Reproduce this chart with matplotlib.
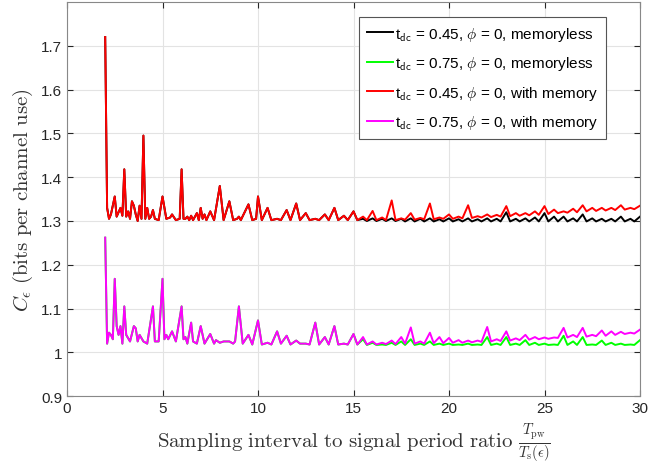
import matplotlib.pyplot as plt

plt.rcParams['mathtext.fontset'] = 'cm'
plt.rcParams['font.family'] = ['Liberation Sans', 'DejaVu Sans']

# t_dc = 0.45, with memory (red)
red_x = [2.0, 2.1, 2.2, 2.3, 2.4, 2.5, 2.6, 2.7, 2.8, 2.9, 3.0, 3.1, 3.2, 3.3, 3.4, 3.5, 3.6, 3.7, 3.8, 3.9,
         4.0, 4.1, 4.2, 4.3, 4.4, 4.5, 4.6, 4.8, 5.0, 5.2, 5.4, 5.5, 5.7, 5.9, 6.0, 6.1, 6.2, 6.3, 6.4, 6.5,
         6.6, 6.8, 6.9, 7.0, 7.1, 7.2, 7.3, 7.5, 7.7, 8.0, 8.2, 8.5, 8.7, 8.9, 9.0, 9.1, 9.5, 9.7, 9.9, 10.0,
         10.2, 10.5, 10.7, 11.0, 11.2, 11.5, 11.7, 12.0, 12.2, 12.5, 12.7, 13.0, 13.2, 13.5, 13.7, 14.0, 14.2,
         14.5, 14.7, 15.0, 15.2, 15.5, 15.7, 16.0, 16.2, 16.5, 16.7, 17.0, 17.2, 17.5, 17.7, 18.0, 18.2, 18.5,
         18.7, 19.0, 19.2, 19.5, 19.7, 20.0, 20.2, 20.5, 20.7, 21.0, 21.2, 21.5, 21.7, 22.0, 22.2, 22.5, 22.7,
         23.0, 23.2, 23.5, 23.7, 24.0, 24.2, 24.5, 24.7, 25.0, 25.2, 25.5, 25.7, 26.0, 26.2, 26.5, 26.7, 27.0,
         27.2, 27.5, 27.7, 28.0, 28.2, 28.5, 28.7, 29.0, 29.2, 29.5, 29.7, 30.0]
red_y = [1.72, 1.33, 1.305, 1.315, 1.335, 1.356, 1.31, 1.32, 1.33, 1.312, 1.418, 1.31, 1.322, 1.305, 1.345,
         1.335, 1.315, 1.30, 1.335, 1.305, 1.495, 1.305, 1.33, 1.305, 1.31, 1.325, 1.305, 1.302, 1.356, 1.305,
         1.308, 1.315, 1.302, 1.305, 1.418, 1.305, 1.305, 1.31, 1.302, 1.312, 1.302, 1.318, 1.302, 1.33, 1.305,
         1.315, 1.302, 1.322, 1.302, 1.38, 1.302, 1.345, 1.302, 1.305, 1.31, 1.302, 1.338, 1.302, 1.305, 1.356,
         1.302, 1.33, 1.302, 1.305, 1.302, 1.325, 1.302, 1.34, 1.302, 1.318, 1.302, 1.305, 1.302, 1.315, 1.302,
         1.33, 1.302, 1.312, 1.302, 1.322, 1.302, 1.31, 1.302, 1.323, 1.302, 1.308, 1.302, 1.347, 1.302, 1.306,
         1.303, 1.318, 1.303, 1.307, 1.304, 1.34, 1.304, 1.308, 1.305, 1.315, 1.305, 1.31, 1.306, 1.336, 1.307,
         1.311, 1.308, 1.315, 1.309, 1.314, 1.31, 1.334, 1.311, 1.318, 1.312, 1.318, 1.313, 1.322, 1.314, 1.334,
         1.316, 1.326, 1.318, 1.322, 1.319, 1.328, 1.32, 1.336, 1.322, 1.33, 1.323, 1.33, 1.324, 1.33, 1.325,
         1.336, 1.326, 1.33, 1.327, 1.335]

# t_dc = 0.45, memoryless (black) - same as red up to ~15
black_tail_x = [15.5, 15.7, 16.0, 16.2, 16.5, 16.7, 17.0, 17.2, 17.5, 17.7, 18.0, 18.2, 18.5, 18.7, 19.0,
                19.2, 19.5, 19.7, 20.0, 20.2, 20.5, 20.7, 21.0, 21.2, 21.5, 21.7, 22.0, 22.2, 22.5, 22.7,
                23.0, 23.2, 23.5, 23.7, 24.0, 24.2, 24.5, 24.7, 25.0, 25.2, 25.5, 25.7, 26.0, 26.2, 26.5,
                26.7, 27.0, 27.2, 27.5, 27.7, 28.0, 28.2, 28.5, 28.7, 29.0, 29.2, 29.5, 29.7, 30.0]
black_tail_y = [1.305, 1.3, 1.306, 1.3, 1.305, 1.3, 1.306, 1.3, 1.305, 1.299, 1.306, 1.299, 1.305, 1.299, 1.306,
                1.299, 1.304, 1.299, 1.306, 1.299, 1.304, 1.299, 1.306, 1.299, 1.304, 1.299, 1.306, 1.299, 1.305,
                1.299, 1.32, 1.299, 1.305, 1.299, 1.306, 1.299, 1.308, 1.299, 1.318, 1.299, 1.31, 1.299, 1.31,
                1.299, 1.306, 1.299, 1.315, 1.299, 1.306, 1.299, 1.305, 1.299, 1.305, 1.299, 1.31, 1.299, 1.305,
                1.299, 1.31]

# t_dc = 0.75, with memory (magenta)
mag_x = [2.0, 2.1, 2.2, 2.3, 2.4, 2.5, 2.6, 2.7, 2.8, 2.9, 3.0, 3.1, 3.3, 3.5, 3.6, 3.7, 3.8, 4.0, 4.2, 4.5,
         4.6, 4.8, 5.0, 5.1, 5.2, 5.3, 5.5, 5.7, 6.0, 6.1, 6.2, 6.3, 6.5, 6.6, 6.8, 7.0, 7.2, 7.5, 7.7, 7.8,
         8.0, 8.2, 8.5, 8.7, 8.8, 9.0, 9.2, 9.5, 9.7, 10.0, 10.2, 10.5, 10.7, 11.0, 11.2, 11.5, 11.7, 12.0,
         12.2, 12.5, 12.7, 13.0, 13.2, 13.5, 13.7, 14.0, 14.2, 14.5, 14.7, 15.0, 15.2, 15.5, 15.7, 16.0, 16.2,
         16.5, 16.7, 17.0, 17.2, 17.5, 17.7, 18.0, 18.2, 18.5, 18.7, 19.0, 19.2, 19.5, 19.7, 20.0, 20.2, 20.5,
         20.7, 21.0, 21.2, 21.5, 21.7, 22.0, 22.2, 22.5, 22.7, 23.0, 23.2, 23.5, 23.7, 24.0, 24.2, 24.5, 24.7,
         25.0, 25.2, 25.5, 25.7, 26.0, 26.2, 26.5, 26.7, 27.0, 27.2, 27.5, 27.7, 28.0, 28.2, 28.5, 28.7, 29.0,
         29.2, 29.5, 29.7, 30.0]
mag_y = [1.262, 1.02, 1.045, 1.04, 1.03, 1.168, 1.06, 1.04, 1.06, 1.02, 1.105, 1.04, 1.025, 1.06, 1.055,
         1.025, 1.04, 1.025, 1.02, 1.105, 1.025, 1.025, 1.168, 1.03, 1.04, 1.03, 1.048, 1.025, 1.105, 1.03,
         1.035, 1.02, 1.068, 1.025, 1.02, 1.06, 1.02, 1.042, 1.02, 1.028, 1.022, 1.025, 1.025, 1.02, 1.025,
         1.105, 1.02, 1.04, 1.018, 1.073, 1.018, 1.022, 1.018, 1.048, 1.02, 1.038, 1.018, 1.027, 1.02, 1.02,
         1.018, 1.068, 1.018, 1.035, 1.018, 1.06, 1.018, 1.02, 1.018, 1.042, 1.018, 1.035, 1.018, 1.025, 1.018,
         1.022, 1.019, 1.027, 1.019, 1.035, 1.02, 1.057, 1.02, 1.025, 1.02, 1.045, 1.021, 1.035, 1.021, 1.033,
         1.022, 1.028, 1.022, 1.027, 1.023, 1.027, 1.024, 1.058, 1.025, 1.03, 1.026, 1.048, 1.027, 1.032, 1.028,
         1.04, 1.029, 1.035, 1.03, 1.034, 1.031, 1.034, 1.033, 1.056, 1.034, 1.04, 1.035, 1.056, 1.036, 1.04,
         1.037, 1.05, 1.038, 1.048, 1.04, 1.047, 1.042, 1.045, 1.043, 1.052]

# t_dc = 0.75, memoryless (green) - same as magenta up to ~15
green_tail_x = [15.5, 15.7, 16.0, 16.2, 16.5, 16.7, 17.0, 17.2, 17.5, 17.7, 18.0, 18.2, 18.5, 18.7, 19.0,
                19.2, 19.5, 19.7, 20.0, 20.2, 20.5, 20.7, 21.0, 21.2, 21.5, 21.7, 22.0, 22.2, 22.5, 22.7,
                23.0, 23.2, 23.5, 23.7, 24.0, 24.2, 24.5, 24.7, 25.0, 25.2, 25.5, 25.7, 26.0, 26.2, 26.5,
                26.7, 27.0, 27.2, 27.5, 27.7, 28.0, 28.2, 28.5, 28.7, 29.0, 29.2, 29.5, 29.7, 30.0]
green_tail_y = [1.03, 1.017, 1.022, 1.017, 1.018, 1.017, 1.022, 1.017, 1.025, 1.017, 1.03, 1.017, 1.02, 1.017,
                1.025, 1.017, 1.02, 1.017, 1.02, 1.017, 1.018, 1.017, 1.02, 1.017, 1.018, 1.017, 1.035, 1.017,
                1.02, 1.017, 1.035, 1.017, 1.02, 1.017, 1.028, 1.017, 1.022, 1.017, 1.02, 1.017, 1.018, 1.017,
                1.038, 1.017, 1.025, 1.017, 1.035, 1.017, 1.018, 1.017, 1.027, 1.017, 1.022, 1.017, 1.02, 1.017,
                1.018, 1.017, 1.028]

labels = [r't$_{\mathsf{dc}}$ = 0.45, $\phi$ = 0, memoryless',
          r't$_{\mathsf{dc}}$ = 0.75, $\phi$ = 0, memoryless',
          r't$_{\mathsf{dc}}$ = 0.45, $\phi$ = 0, with memory',
          r't$_{\mathsf{dc}}$ = 0.75, $\phi$ = 0, with memory']

n_red = red_x.index(15.2) + 1
black_x = red_x[:n_red] + black_tail_x
black_y = red_y[:n_red] + black_tail_y
n_mag = mag_x.index(15.2) + 1
green_x = mag_x[:n_mag] + green_tail_x
green_y = mag_y[:n_mag] + green_tail_y

fig = plt.figure(figsize=(6.72, 4.64), dpi=100)
ax = fig.add_axes([0.0997, 0.144, 0.8527, 0.8495])

lw = 1.4
ax.plot(black_x, black_y, color='black', lw=lw, label=labels[0])
ax.plot(green_x, green_y, color='#00ff00', lw=lw, label=labels[1])
ax.plot(red_x, red_y, color='red', lw=lw, label=labels[2])
ax.plot(mag_x, mag_y, color='magenta', lw=lw, label=labels[3])

ax.set_xlim(0, 30)
ax.set_ylim(0.9, 1.8)
ax.set_xticks([0, 5, 10, 15, 20, 25, 30])
ax.set_yticks([0.9, 1.0, 1.1, 1.2, 1.3, 1.4, 1.5, 1.6, 1.7])
ax.set_yticklabels(['0.9', '1', '1.1', '1.2', '1.3', '1.4', '1.5', '1.6', '1.7'])
ax.tick_params(direction='in', top=True, right=True, labelsize=11, colors='#262626', length=4)
ax.grid(True, color='#e3e3e3', lw=0.8)
ax.set_axisbelow(True)
for s in ax.spines.values():
    s.set_color('#888888')

ax.set_xlabel(r'$\mathrm{Sampling\ interval\ to\ signal\ period\ ratio}\ \frac{T_{\mathrm{pw}}}{T_{\mathrm{s}}(\epsilon)}$',
              fontsize=15, color='#333333', labelpad=5)
ax.set_ylabel(r'$C_\epsilon\ \mathrm{(bits\ per\ channel\ use)}$', fontsize=15, color='#333333', labelpad=4)

leg = ax.legend(loc='upper right', bbox_to_anchor=(0.9407, 0.9615), borderaxespad=0, fontsize=11,
                handlelength=1.7, handletextpad=0.15, labelspacing=0.75, fancybox=False, framealpha=1,
                borderpad=0.5)
leg.get_frame().set_edgecolor('#555555')
leg.get_frame().set_linewidth(0.8)

plt.savefig('out.png')
